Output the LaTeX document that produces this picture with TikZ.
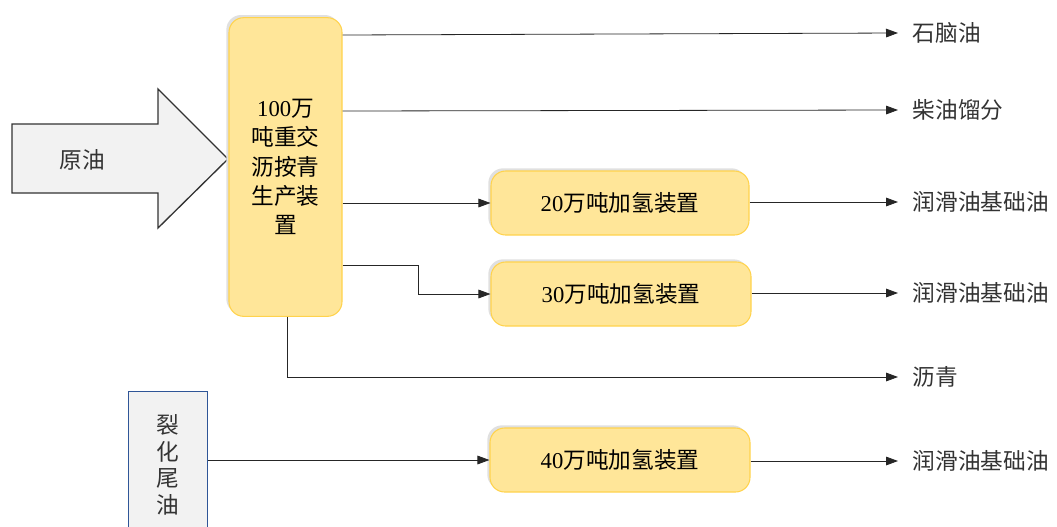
\documentclass[tikz,border=0pt]{standalone}
\usepackage{fontspec}
\setmainfont{Liberation Serif}
\newfontfamily\cjk{Noto Sans CJK SC}
\usetikzlibrary{arrows.meta,shadows}
\definecolor{boxfill}{HTML}{FFE699}
\definecolor{boxline}{HTML}{FFD34D}
\definecolor{feedfill}{HTML}{F2F2F2}
\definecolor{feedline}{HTML}{2F5597}
\tikzset{
  >={Triangle[length=9pt,width=6.5pt]},
  unit/.style={draw=boxline, fill=boxfill, rounded corners=11pt, line width=0.8pt,
    general shadow={shadow xshift=-2pt, shadow yshift=2pt, fill=black!12}},
  product/.style={anchor=west, inner xsep=11pt, text=black!80, font=\fontsize{17}{20}\selectfont\cjk},
  flow/.style={->, line width=0.6pt, black!85}
}
\begin{document}
\begin{tikzpicture}[x=0.75pt, y=-0.75pt]
        \useasboundingbox (0, 0) rectangle (1057, 526);
        % feed arrow
        \draw[fill=feedfill, line width=1pt, draw=black!80] (12, 124) -- (158, 124) -- (158, 89) -- (228, 159)
          -- (158, 228) -- (158, 193) -- (12, 193) -- cycle;
        \node[font=\fontsize{17}{20}\selectfont\cjk, text=black!80] (crude) at (82, 160) {原油};
        % main unit
        \node[unit, minimum width=84.75pt, minimum height=224pt, align=center,
          font=\fontsize{17}{22}\selectfont\cjk] (main) at (285.5, 167)
          {{\rmfamily 100}万\\吨重交\\沥按青\\生产装\\置};
        % hydro units
        \node[unit, minimum width=193.5pt, minimum height=48pt,
          font=\fontsize{17}{20}\selectfont] (hyA) at (620, 203) {20{\cjk 万吨加氢装置}};
        \node[unit, minimum width=195pt, minimum height=48pt,
          font=\fontsize{17}{20}\selectfont] (hyB) at (621, 294) {30{\cjk 万吨加氢装置}};
        \node[unit, minimum width=195pt, minimum height=48pt,
          font=\fontsize{17}{20}\selectfont] (hyC) at (620, 460) {40{\cjk 万吨加氢装置}};
        % cracked tail oil
        \node[draw=feedline, fill=feedfill, line width=1pt, minimum width=59pt, minimum height=110pt,
          anchor=north west, align=center, font=\fontsize{17}{20}\selectfont\cjk, text=black!80] (tail) at (128, 391)
          {裂\\化\\尾\\油};
        % products
        \node[product] (naphtha) at (898, 33) {石脑油};
        \node[product] (diesel) at (898, 110) {柴油馏分};
        \node[product] (lubeA) at (898, 202) {润滑油基础油};
        \node[product] (lubeB) at (898, 293) {润滑油基础油};
        \node[product] (bitumen) at (898, 377) {沥青};
        \node[product] (lubeC) at (898, 461) {润滑油基础油};
        % flows
        \draw[flow] (main.east |- 0, 35) -- (naphtha.west);
        \draw[flow] (main.east |- 0, 111) -- (diesel.west);
        \draw[flow] (main.east |- hyA.west) -- (hyA.west);
        \draw[flow] (main.east |- 0, 265) -- (418, 265) -- (418, 294) -- (hyB.west);
        \draw[flow] (main.south -| 287, 0) -- (287, 377) -- (bitumen.west);
        \draw[flow] (hyA.east |- lubeA.west) -- (lubeA.west);
        \draw[flow] (hyB.east |- lubeB.west) -- (lubeB.west);
        \draw[flow] (tail.east |- hyC.west) -- (hyC.west);
        \draw[flow] (hyC.east |- lubeC.west) -- (lubeC.west);
      \end{tikzpicture}
\end{document}
